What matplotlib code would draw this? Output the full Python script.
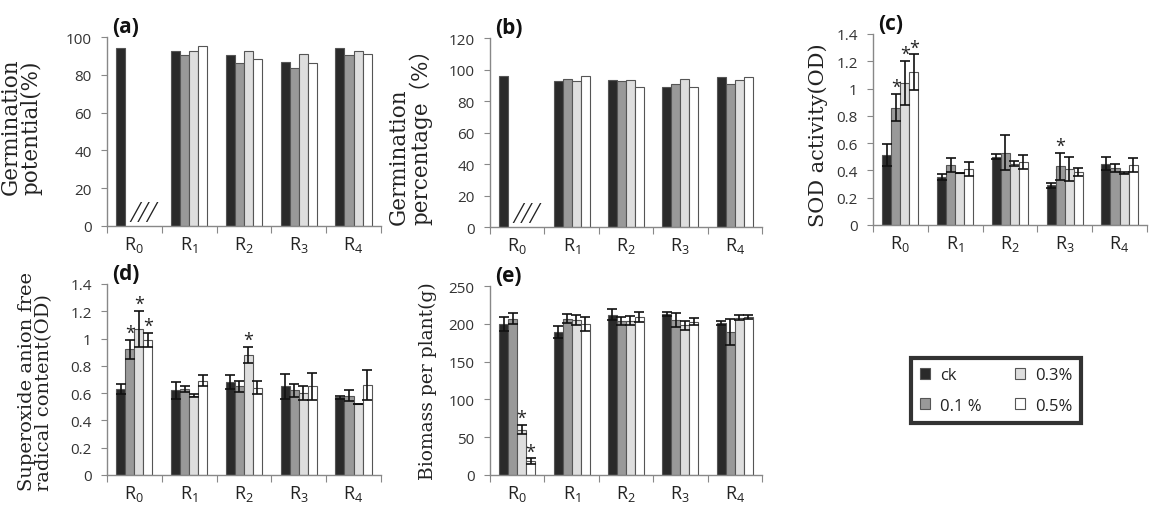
import numpy as np
import matplotlib
matplotlib.use("Agg")
import matplotlib.pyplot as plt
from matplotlib.patches import Patch

plt.rcParams['font.family'] = ['Open Sans', 'DejaVu Sans']
plt.rcParams['mathtext.fontset'] = 'custom'
plt.rcParams['mathtext.rm'] = 'Open Sans'
plt.rcParams['mathtext.it'] = 'Open Sans'

groups = [r"$\mathrm{R_0}$", r"$\mathrm{R_1}$", r"$\mathrm{R_2}$", r"$\mathrm{R_3}$", r"$\mathrm{R_4}$"]
series = ["ck", "0.1 %", "0.3%", "0.5%"]
nan = np.nan

# (a) Germination potential
gp_ck = [94, 92.5, 90.5, 87, 94]
gp_01 = [nan, 90.5, 86, 83.5, 90.5]
gp_03 = [nan, 92.5, 92.5, 91, 92.5]
gp_05 = [nan, 95, 88.5, 86.5, 91]

# (b) Germination percentage
gr_ck = [96, 92.5, 93.5, 89, 95]
gr_01 = [nan, 94, 92.5, 91, 91]
gr_03 = [nan, 92.5, 93.5, 94, 93.5]
gr_05 = [nan, 96, 89, 89, 95]

# (c) SOD activity
sod_ck = [0.51, 0.35, 0.50, 0.29, 0.45]
sod_01 = [0.86, 0.44, 0.53, 0.43, 0.42]
sod_03 = [1.04, 0.38, 0.45, 0.41, 0.38]
sod_05 = [1.12, 0.41, 0.46, 0.39, 0.44]
sod_ck_err = [0.08, 0.02, 0.02, 0.02, 0.05]
sod_01_err = [0.10, 0.05, 0.13, 0.10, 0.03]
sod_03_err = [0.16, 0.0, 0.02, 0.09, 0.01]
sod_05_err = [0.13, 0.05, 0.05, 0.03, 0.05]
sod_stars = [(0, 1), (0, 2), (0, 3), (3, 1)]

# (d) Superoxide anion free radical content
so_ck = [0.63, 0.62, 0.68, 0.65, 0.57]
so_01 = [0.92, 0.63, 0.65, 0.62, 0.58]
so_03 = [1.07, 0.58, 0.88, 0.60, 0.52]
so_05 = [0.99, 0.69, 0.64, 0.65, 0.66]
so_ck_err = [0.04, 0.06, 0.05, 0.09, 0.01]
so_01_err = [0.07, 0.02, 0.04, 0.05, 0.04]
so_03_err = [0.13, 0.01, 0.06, 0.05, 0.0]
so_05_err = [0.05, 0.04, 0.05, 0.10, 0.11]
so_stars = [(0, 1), (0, 2), (0, 3), (2, 2)]

# (e) Biomass per plant
bm_ck = [200, 189, 212, 213, 201]
bm_01 = [207, 207, 204, 205, 189]
bm_03 = [60, 205, 204, 198, 208]
bm_05 = [18, 200, 209, 203, 209]
bm_ck_err = [9, 8, 7, 3, 3]
bm_01_err = [7, 6, 5, 9, 17]
bm_03_err = [6, 6, 6, 6, 3]
bm_05_err = [4, 9, 7, 5, 2]
bm_stars = [(0, 2), (0, 3)]

colors = ["#2a2a2a", "#999999", "#dedede", "#ffffff"]
edge = "#555555"
W = 0.165
sans = ['Open Sans', 'DejaVu Sans']
serif = ['DejaVu Serif', 'Noto Sans CJK SC']

fig = plt.figure(figsize=(11.55, 5.06), dpi=100)

def panel(rect, letter, vals, errs, stars, ylim, yticks, yticklabels, ylabel, lab_x, lab_y,
          lab_size, missing=False):
    ax = fig.add_axes(rect)
    x = np.arange(len(groups))
    for i, v in enumerate(vals):
        v = np.array(v, dtype=float)
        pos = x + (i - 1.5) * W
        ax.bar(pos, v, width=W, color=colors[i], edgecolor=edge, linewidth=0.8, zorder=2)
        if errs is not None:
            ax.errorbar(pos, v, yerr=errs[i], fmt='none', ecolor='#111111',
                        elinewidth=1.2, capsize=3.8, capthick=1.2, zorder=3)
    for (g, s) in stars:
        top = vals[s][g] + errs[s][g]
        ax.annotate('*', (g + (s - 1.5) * W, top), xytext=(0, 5), textcoords='offset points',
                    ha='center', va='center', fontsize=13, color='#222222')
    if missing:
        ax.text(0 + 0.17, -0.005 * ylim[1], '///', ha='center', va='bottom', fontsize=20,
                style='italic', fontweight='light', color='#222222', fontfamily=sans)
    ax.set_xlim(-0.5, len(groups) - 0.5)
    ax.set_ylim(*ylim)
    ax.set_yticks(yticks)
    ax.set_yticklabels(yticklabels)
    ax.set_xticks(np.arange(-0.5, len(groups), 1.0))
    ax.set_xticklabels([])
    ax.set_xticks(x, minor=True)
    ax.set_xticklabels(groups, minor=True, fontsize=13)
    ax.tick_params(axis='x', which='minor', length=0, pad=6, labelcolor='#222222')
    ax.tick_params(axis='x', which='major', length=5, color='#888888', direction='out')
    ax.tick_params(axis='y', length=4, color='#888888', labelsize=11, labelcolor='#333333', pad=7)
    for sp in ['top', 'right']:
        ax.spines[sp].set_visible(False)
    for sp in ['left', 'bottom']:
        ax.spines[sp].set_color('#888888')
        ax.spines[sp].set_linewidth(1.0)
    lab = ax.set_ylabel(ylabel, fontsize=lab_size, fontfamily=serif, color='#222222',
                        linespacing=0.95)
    lab.set_multialignment('left')
    ax.yaxis.set_label_coords(lab_x, lab_y)
    ax.text(0.02, 1.0, letter, transform=ax.transAxes, ha='left', va='bottom',
            fontsize=15, fontweight='bold', fontfamily=sans, color='#111111')
    return ax

def fmt(ticks):
    return [('%g' % t) for t in ticks]

t100 = np.arange(0, 101, 20)
t120 = np.arange(0, 121, 20)
t14 = np.round(np.arange(0, 1.41, 0.2), 1)
t250 = np.arange(0, 251, 50)

panel([0.0926, 0.5514, 0.2372, 0.3735], '(a)', [gp_ck, gp_01, gp_03, gp_05], None, [],
      (0, 100), t100, fmt(t100), 'Germination\npotential(%)', -0.234, 0.53, 15.5, missing=True)
panel([0.4242, 0.5494, 0.2355, 0.3735], '(b)', [gr_ck, gr_01, gr_03, gr_05], None, [],
      (0, 120), t120, fmt(t120), 'Germination\npercentage\uff08%\uff09', -0.213, 0.51, 15.5,
      missing=True)
panel([0.7558, 0.5534, 0.2372, 0.3775], '(c)', [sod_ck, sod_01, sod_03, sod_05],
      [sod_ck_err, sod_01_err, sod_03_err, sod_05_err], sod_stars,
      (0, 1.4), t14, fmt(t14), 'SOD activity(OD)', -0.164, 0.476, 15)
panel([0.0926, 0.0593, 0.2372, 0.3775], '(d)', [so_ck, so_01, so_03, so_05],
      [so_ck_err, so_01_err, so_03_err, so_05_err], so_stars,
      (0, 1.4), t14, fmt(t14), 'Superoxide anion free\nradical content(OD)', -0.197, 0.497, 14)
panel([0.4242, 0.0593, 0.2355, 0.3735], '(e)', [bm_ck, bm_01, bm_03, bm_05],
      [bm_ck_err, bm_01_err, bm_03_err, bm_05_err], bm_stars,
      (0, 250), t250, fmt(t250), 'Biomass per plant(g)', -0.195, 0.503, 13.5)

handles = [Patch(facecolor=colors[i], edgecolor=edge, linewidth=0.8) for i in range(4)]
leg = fig.legend(handles, series, ncol=2, loc='center',
                 bbox_to_anchor=(996 / 1155, 1 - 391.5 / 506), fontsize=12,
                 frameon=True, fancybox=False, edgecolor='black',
                 handlelength=0.6, handleheight=0.6, handletextpad=0.6,
                 columnspacing=2.0, labelspacing=0.85, borderpad=0.55)
leg.get_frame().set_linewidth(3)
for t in leg.get_texts():
    t.set_color('#222222')

fig.savefig('out.png', dpi=100)
